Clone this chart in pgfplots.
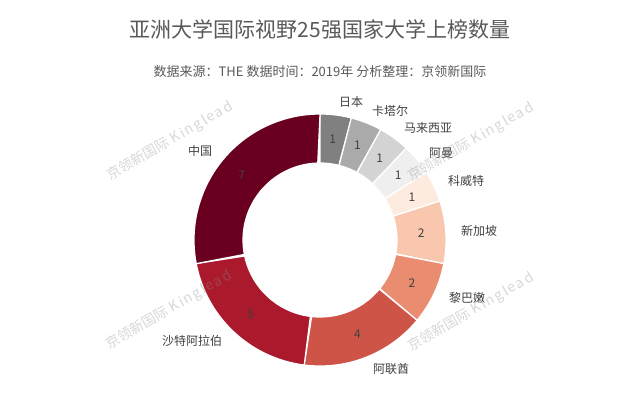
\documentclass[border=0pt]{standalone}
\usepackage{pgfplots}
\pgfplotsset{compat=1.18}
\usepackage{fontspec}
\setmainfont{Noto Sans CJK SC}
\newfontfamily\wmlat[LetterSpace=12]{Noto Sans CJK SC}
\definecolor{c1}{HTML}{808080}
\definecolor{c2}{HTML}{AAAAAA}
\definecolor{c3}{HTML}{D3D3D3}
\definecolor{c4}{HTML}{EFEFEF}
\definecolor{c5}{HTML}{FDEBE0}
\definecolor{c6}{HTML}{F8C7AE}
\definecolor{c7}{HTML}{EA8C6F}
\definecolor{c8}{HTML}{CF5448}
\definecolor{c9}{HTML}{AA1A2C}
\definecolor{c10}{HTML}{690020}
\definecolor{labc}{HTML}{404040}
\definecolor{titlec}{HTML}{595959}
\definecolor{wmc}{HTML}{8C8C8C}
% #1 cumulative count before slice, #2 value, #3 colour
\newcommand\slice[3]{%
  \addplot[fill=#3, draw=white, line width=1.2pt, line join=round, domain=0:2, samples=121]
    ({320 + (x<1.005 ? 126*cos(90-14.4*(#1+#2*min(x,1))) : 77*cos(90-14.4*(#1+#2*(2-x))))},
     {160 + (x<1.005 ? 126*sin(90-14.4*(#1+#2*min(x,1))) : 77*sin(90-14.4*(#1+#2*(2-x))))}) -- cycle;
  \node[text=labc, font=\fontsize{12}{12}\selectfont]
    at (axis cs:{320+101.5*cos(90-14.4*(#1+#2/2))},{160+101.5*sin(90-14.4*(#1+#2/2))}) {#2};
}
\begin{document}
\begin{tikzpicture}
\path[use as bounding box] (0,0) rectangle (640pt,400pt);
\begin{axis}[at={(0,0)}, anchor=south west, x=1pt, y=1pt,
  xmin=0, xmax=640, ymin=0, ymax=400, hide axis, clip=false]
\slice{0}{1}{c1}
\slice{1}{1}{c2}
\slice{2}{1}{c3}
\slice{3}{1}{c4}
\slice{4}{1}{c5}
\slice{5}{2}{c6}
\slice{7}{2}{c7}
\slice{9}{4}{c8}
\slice{13}{5}{c9}
\slice{18}{7}{c10}
% category labels
\begin{scope}[every node/.style={text=labc, font=\fontsize{12}{12}\selectfont}]
\node at (axis cs:351,298) {日本};
\node at (axis cs:390,289) {卡塔尔};
\node at (axis cs:428,272) {马来西亚};
\node at (axis cs:441,247) {阿曼};
\node at (axis cs:466,219) {科威特};
\node at (axis cs:479,169) {新加坡};
\node at (axis cs:467,102) {黎巴嫩};
\node at (axis cs:391,31) {阿联酋};
\node at (axis cs:192,59) {沙特阿拉伯};
\node at (axis cs:200,249) {中国};
\end{scope}
% titles
\node[text=titlec, font=\fontsize{21}{21}\selectfont] at (axis cs:320,370) {亚洲大学国际视野25强国家大学上榜数量};
\node[text=titlec, font=\fontsize{13}{13}\selectfont] at (axis cs:320,328) {数据来源：THE 数据时间：2019年 分析整理：京领新国际};
% watermarks
\begin{scope}[every node/.style={rotate=30, text=wmc, opacity=0.35, font=\fontsize{14}{14}\selectfont}]
\node at (axis cs:170,259) {京领新国际 {\wmlat Kinglead}};
\node at (axis cs:471,258) {京领新国际 {\wmlat Kinglead}};
\node at (axis cs:169,90) {京领新国际 {\wmlat Kinglead}};
\node at (axis cs:471,88) {京领新国际 {\wmlat Kinglead}};
\end{scope}
\end{axis}
\end{tikzpicture}
\end{document}
